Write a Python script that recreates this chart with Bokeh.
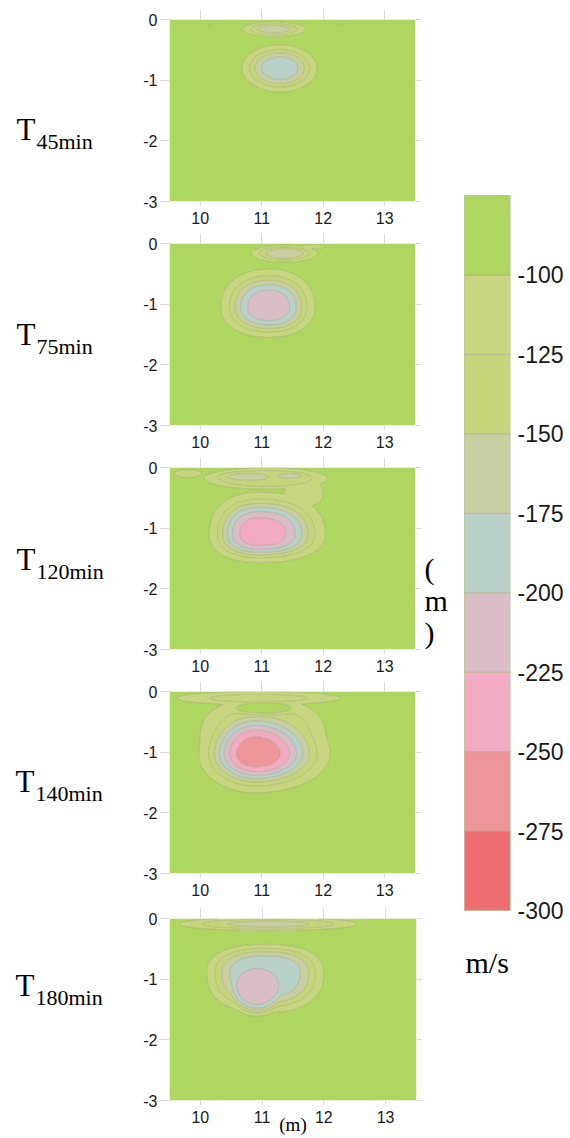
import numpy as np
from bokeh.plotting import figure
from bokeh.models import Range1d, LinearAxis, FixedTicker, PrintfTickFormatter
from bokeh.core.properties import value
from bokeh.layouts import column, row
from bokeh.embed import file_html
from bokeh.resources import INLINE

# ---------------- data ----------------
levels = [-300, -275, -250, -225, -200, -175, -150, -125, -100, -75]
band_colors = ["#ee6e71", "#ee9599", "#f2abc3", "#d9bec7", "#b9d1c8",
               "#c9cfa3", "#c7d67d", "#c8d77f", "#aed661"]
colorbar_ticks = [-100, -125, -150, -175, -200, -225, -250, -275, -300]
x_ticks = [10, 11, 12, 13]
y_ticks = [0, -1, -2, -3]
background_velocity = -90
panel_times = ["45min", "75min", "120min", "140min", "180min"]

# velocity anomalies:
# (x centre, depth centre, half-size left, right, up, down,
#  extreme velocity m/s, edge sharpness, squareness)
blobs_45 = [
    (11.20, -0.16, 0.42, 0.42, 0.10, 0.10, -162, 3.5, 2),
    (11.30, -0.80, 0.49, 0.47, 0.30, 0.31, -192, 3.5, 2),
    (10.15, -0.09, 0.04, 0.04, 0.025, 0.025, -103, 2, 2),
    (12.30, -0.085, 0.06, 0.06, 0.025, 0.025, -104, 2, 2),
]
blobs_75 = [
    (11.37, -0.165, 0.44, 0.44, 0.115, 0.115, -168, 3.5, 2),
    (11.85, -0.05, 0.25, 0.25, 0.04, 0.04, -108, 2, 2),
    (11.12, -1.05, 0.60, 0.57, 0.48, 0.38, -218, 3.5, 2.2),
]
blobs_120 = [
    (11.07, -0.18, 0.94, 0.94, 0.165, 0.165, -135, 6, 2),
    (10.78, -0.155, 0.55, 0.55, 0.094, 0.094, -160, 3.5, 2),
    (11.45, -0.14, 0.33, 0.33, 0.072, 0.072, -158, 3.5, 2),
    (9.80, -0.10, 0.30, 0.30, 0.08, 0.08, -108, 2, 2),
    (11.72, -0.42, 0.35, 0.28, 0.22, 0.22, -118, 3, 2),
    (10.97, -1.10, 0.62, 0.80, 0.52, 0.35, -240, 3.5, 2.3),
]
blobs_140 = [
    (10.95, -0.11, 1.22, 1.22, 0.10, 0.10, -132, 4, 2),
    (11.02, -0.75, 0.88, 0.88, 0.55, 0.55, -150, 4, 2.4),
    (10.90, -1.03, 0.65, 0.85, 0.60, 0.45, -268, 3, 2),
    (11.03, -0.29, 0.45, 0.45, 0.10, 0.10, -45, 4, 2),
]
blobs_180 = [
    (11.10, -0.09, 1.20, 1.20, 0.09, 0.09, -158, 3.5, 2),
    (11.05, -0.90, 0.80, 0.80, 0.40, 0.55, -192, 5, 2.4),
    (10.92, -1.12, 0.455, 0.455, 0.38, 0.42, -215, 6, 2),
]
panel_blobs = [blobs_45, blobs_75, blobs_120, blobs_140, blobs_180]

# ---------------- field on a grid ----------------
xs = np.linspace(9.5, 13.5, 321)
ys = np.linspace(-3.0, 0.0, 241)
X, Y = np.meshgrid(xs, ys)


def velocity_field(blobs):
    low = np.zeros_like(X)
    lift = np.zeros_like(X)
    for cx, cy, rxl, rxr, ryt, ryb, vext, sharp, q in blobs:
        dx = np.abs(np.where(X < cx, (X - cx) / rxl, (X - cx) / rxr))
        dy = np.abs(np.where(Y > cy, (Y - cy) / ryt, (Y - cy) / ryb))
        r = (dx ** q + dy ** q) ** (1.0 / q)
        d = (background_velocity - vext) * np.exp(-r ** sharp)
        if vext < background_velocity:
            low += d ** 8
        else:
            lift -= d
    return background_velocity - low ** (1.0 / 8.0) + lift


# ---------------- layout constants ----------------
PAGE_H = 1138
GRID_C = "#d9d9d9"
LINE_C = "#8d9266"
TEXT_C = "#1a1a1a"
panel_left = [39, 39, 39, 39, 36]
panel_fw = [246, 246, 246, 246, 247]
panel_top = [19, 12, 12, 12, 15]
panel_bottom = [30, 30, 30, 30, 38]
COL_B_W = 292

# ---------------- left column: time labels ----------------
t_baseline = [129, 334, 559, 781, 985]
lf = figure(x_range=Range1d(0, 130), y_range=Range1d(PAGE_H, 0), width=130, height=PAGE_H,
            min_border=0, x_axis_location=None, y_axis_location=None,
            output_backend="svg", toolbar_location=None)
lf.outline_line_color = None
lf.grid.visible = False
lf.text(x=[16, 16, 16, 15, 15], y=t_baseline, text=["T"] * 5,
        text_font=value("Liberation Serif"), text_font_size="31px",
        text_baseline="alphabetic", text_color="black")
lf.text(x=[36, 36, 36, 35, 35], y=[b + 11.5 for b in t_baseline], text=panel_times,
        text_font=value("Liberation Serif"), text_font_size="22px",
        text_baseline="alphabetic", text_color="black")

# ---------------- middle column: contour panels ----------------
panels = []
bottom_axes = []
for i, blobs in enumerate(panel_blobs):
    z = velocity_field(blobs)
    p = figure(x_range=Range1d(9.5, 13.5), y_range=Range1d(-3, 0),
               frame_width=panel_fw[i], frame_height=182,
               min_border_left=panel_left[i],
               min_border_right=COL_B_W - panel_left[i] - panel_fw[i],
               min_border_top=panel_top[i], min_border_bottom=panel_bottom[i],
               output_backend="svg", toolbar_location=None)
    p.outline_line_color = None
    p.grid.visible = False
    p.contour(xs, ys, z, levels, fill_color=band_colors,
              line_color=LINE_C, line_alpha=0.6, line_width=0.7)

    xb, yl = p.xaxis[0], p.yaxis[0]
    for ax, ticks, out, stand in ((xb, x_ticks, 5, 5), (yl, y_ticks, 9, 3)):
        ax.ticker = FixedTicker(ticks=ticks)
        ax.formatter = PrintfTickFormatter(format="%d")
        ax.major_tick_out = out
        ax.major_tick_in = 0
        ax.minor_tick_out = 0
        ax.minor_tick_in = 0
        ax.major_tick_line_color = GRID_C
        ax.axis_line_color = None
        ax.major_label_text_font = "Liberation Sans"
        ax.major_label_text_font_size = "16px"
        ax.major_label_text_color = TEXT_C
        ax.major_label_standoff = stand
    bottom_axes.append(xb)

    top_ax = LinearAxis(ticker=FixedTicker(ticks=x_ticks), major_tick_out=10, major_tick_in=0,
                        minor_tick_out=0, minor_tick_in=0, major_tick_line_color=GRID_C,
                        axis_line_color=None, major_label_text_font_size="1px",
                        major_label_text_color=None, major_label_standoff=0)
    right_ax = LinearAxis(ticker=FixedTicker(ticks=y_ticks), major_tick_out=6, major_tick_in=0,
                          minor_tick_out=0, minor_tick_in=0, major_tick_line_color=GRID_C,
                          axis_line_color=None, major_label_text_font_size="1px",
                          major_label_text_color=None, major_label_standoff=0)
    p.add_layout(top_ax, "above")
    p.add_layout(right_ax, "right")
    panels.append(p)

# distance unit under the last panel
bx = bottom_axes[4]
bx.axis_label = "(m)"
bx.axis_label_text_font = "Liberation Serif"
bx.axis_label_text_font_size = "19px"
bx.axis_label_text_font_style = "normal"
bx.axis_label_text_color = "black"
bx.axis_label_standoff = -12

# ---------------- right column: depth unit + colour bar ----------------
CB_TOP_PX, CB_BOTTOM_PX = 195, 910
px_per_unit = (CB_BOTTOM_PX - CB_TOP_PX) / (levels[-1] - levels[0])
vel_top = levels[-1] + CB_TOP_PX / px_per_unit
vel_bottom = levels[0] - (PAGE_H - CB_BOTTOM_PX) / px_per_unit

cb = figure(x_range=Range1d(422, 510), y_range=Range1d(vel_bottom, vel_top),
            frame_width=88, frame_height=PAGE_H,
            min_border_left=0, min_border_right=60, min_border_top=0, min_border_bottom=0,
            x_axis_location=None, y_axis_location="right",
            output_backend="svg", toolbar_location=None)
cb.outline_line_color = None
cb.grid.visible = False
cb.extra_y_ranges = {"px": Range1d(PAGE_H, 0)}
cb.quad(left=464, right=510, bottom=levels[:-1], top=levels[1:], fill_color=band_colors,
        line_color="#a9ae82", line_width=0.6)
yax = cb.yaxis[0]
yax.ticker = FixedTicker(ticks=colorbar_ticks)
yax.formatter = PrintfTickFormatter(format="%d")
yax.major_tick_out = 0
yax.major_tick_in = 0
yax.minor_tick_out = 0
yax.minor_tick_in = 0
yax.axis_line_color = None
yax.major_label_text_font = "Liberation Sans"
yax.major_label_text_font_size = "23px"
yax.major_label_text_color = TEXT_C
yax.major_label_standoff = 7

cb.text(x=[424, 424, 424], y=[568, 600, 632], text=["(", "m", ")"], y_range_name="px",
        text_font=value("Liberation Serif"), text_font_size="30px",
        text_baseline="alphabetic", text_color="black")
cb.text(x=[465], y=[962], text=["m/s"], y_range_name="px",
        text_font=value("Liberation Serif"), text_font_size="30px",
        text_baseline="alphabetic", text_color="black")

layout = row(lf, column(*panels, spacing=0), cb, spacing=0)
open("out.html", "w").write(file_html(layout, INLINE))
